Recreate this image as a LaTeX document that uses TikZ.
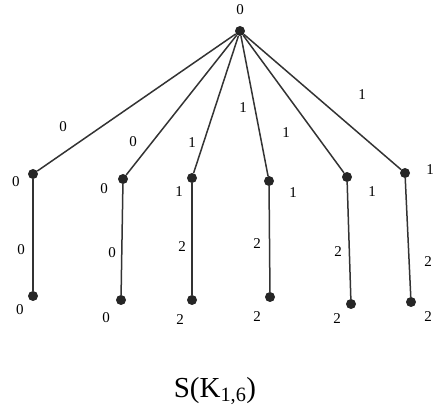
\documentclass[tikz,border=0pt]{standalone}
\usepackage{fontspec}
\setmainfont{Liberation Serif}
\usetikzlibrary{positioning}
\tikzset{
  vtx/.style={circle,fill=black!85,inner sep=0pt,minimum size=10pt},
  lbl/.style={font=\fontsize{15}{17}\selectfont,inner sep=0pt},
  edge/.style={line width=1.5pt,black!80}
}
\begin{document}
\begin{tikzpicture}[x=1pt,y=-1pt]
  \useasboundingbox (0,0) rectangle (434,414);
  % vertices
  \node[vtx] (c) at (240,31) {};
  \node[vtx] (m1) at (33,174) {};
  \node[vtx] (m2) at (123,179) {};
  \node[vtx] (m3) at (192,178) {};
  \node[vtx] (m4) at (269,181) {};
  \node[vtx] (m5) at (347,177) {};
  \node[vtx] (m6) at (405,173) {};
  \node[vtx] (b1) at (33,296) {};
  \node[vtx] (b2) at (121,300) {};
  \node[vtx] (b3) at (192,300) {};
  \node[vtx] (b4) at (270,297) {};
  \node[vtx] (b5) at (351,304) {};
  \node[vtx] (b6) at (411,302) {};
  % edges
  \foreach \i in {1,...,6} {
    \draw[edge] (c) -- (m\i);
    \draw[edge] (m\i) -- (b\i);
  }
  % vertex labels
  \node[lbl] (lc) at (240,10) {0};
  \node[lbl] (l1) at (16,182) {0};
  \node[lbl] (l2) at (104,189) {0};
  \node[lbl] (l3) at (179,192) {1};
  \node[lbl] (l4) at (293,193) {1};
  \node[lbl] (l5) at (372,192) {1};
  \node[lbl] (l6) at (430,170) {1};
  \node[lbl] (k1) at (20,310) {0};
  \node[lbl] (k2) at (106,318) {0};
  \node[lbl] (k3) at (180,320) {2};
  \node[lbl] (k4) at (257,317) {2};
  \node[lbl] (k5) at (337,319) {2};
  \node[lbl] (k6) at (428,317) {2};
  % edge labels
  \node[lbl] (e1) at (63,127) {0};
  \node[lbl] (e2) at (133,142) {0};
  \node[lbl] (e3) at (192,143) {1};
  \node[lbl] (e4) at (243,108) {1};
  \node[lbl] (e5) at (286,133) {1};
  \node[lbl] (e6) at (362,95) {1};
  \node[lbl] (f1) at (21,250) {0};
  \node[lbl] (f2) at (112,253) {0};
  \node[lbl] (f3) at (182,247) {2};
  \node[lbl] (f4) at (257,244) {2};
  \node[lbl] (f5) at (338,252) {2};
  \node[lbl] (f6) at (428,262) {2};
  % caption
  \node[font=\fontsize{29}{31}\selectfont] (cap) at (215,391) {S(K\textsubscript{1,6})};
\end{tikzpicture}
\end{document}
